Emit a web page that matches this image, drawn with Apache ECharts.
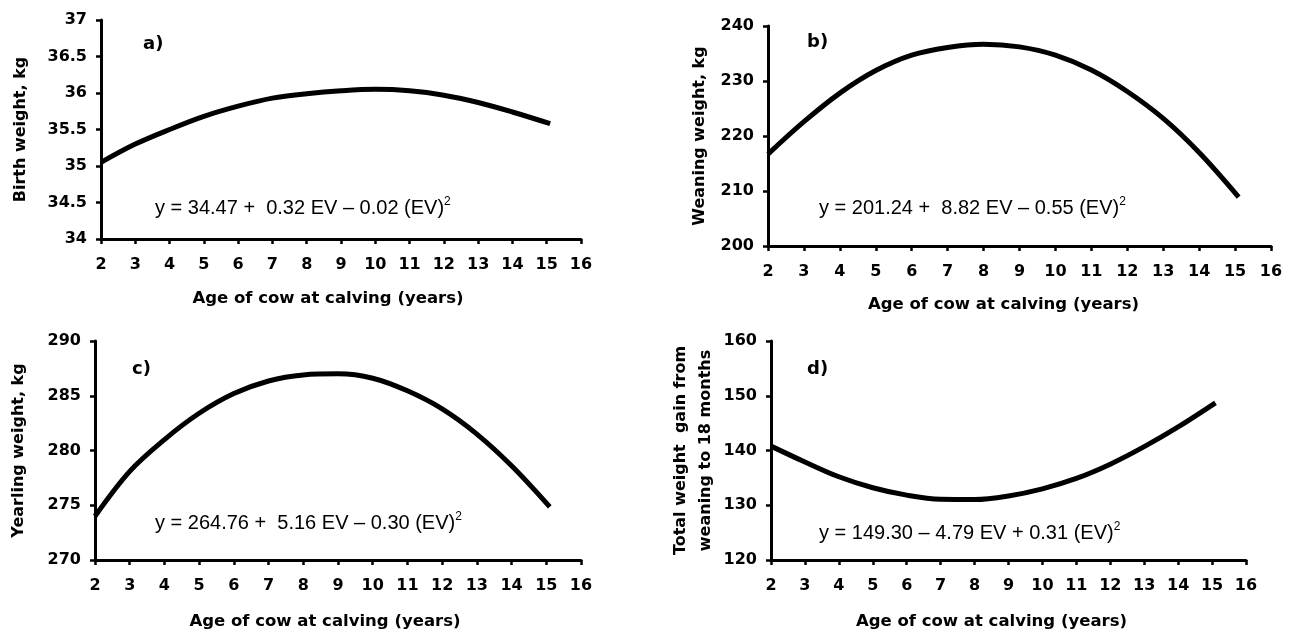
<!DOCTYPE html>
<html lang="en">
  <head>
    <meta charset="UTF-8" />
    <title>Age of cow at calving</title>
    <script src="https://cdn.jsdelivr.net/npm/echarts@6.0.0/dist/echarts.min.js"></script>
    <style>
      html, body { margin: 0; padding: 0; background: #fff; }
      #chart { width: 1292px; height: 630px; }
    </style>
  </head>
  <body>
    <div id="chart"></div>
    <script type="text/javascript">
      // age of cow at calving (years), same points for every panel (curves stop at ~15.1)
      const ages = [2, 3, 4, 5, 6, 7, 8, 9, 10, 11, 12, 13, 14, 15.1];
      // values
      const birthWeight = [35.05, 35.3, 35.5, 35.68, 35.82, 35.93, 35.99, 36.03, 36.05, 36.03, 35.97, 35.87, 35.74, 35.58];
      const weaningWeight = [216.7, 222.6, 227.8, 231.9, 234.7, 236.1, 236.7, 236.2, 234.7, 232.0, 228.1, 223.2, 217.0, 208.9];
      const yearlingWeight = [274.0, 278.1, 281.0, 283.4, 285.2, 286.35, 286.9, 287.0, 286.6, 285.45, 283.8, 281.5, 278.6, 274.85];
      const totalGain = [140.8, 137.9, 135.2, 133.2, 131.85, 131.1, 131.05, 131.7, 133.0, 134.9, 137.5, 140.7, 144.3, 148.7];

      const panelLabels = ["a)", "b)", "c)", "d)"];
      const yNames = ["Birth weight, kg", "Weaning weight, kg", "Yearling weight, kg", "Total weight  gain from\nweaning to 18 months"];
      const xName = "Age of cow at calving (years)";
      const equations = [
        "y = 34.47 +  0.32 EV – 0.02 (EV)",
        "y = 201.24 +  8.82 EV – 0.55 (EV)",
        "y = 264.76 +  5.16 EV – 0.30 (EV)",
        "y = 149.30 – 4.79 EV + 0.31 (EV)",
      ];
      const yMin = [34, 200, 270, 120];
      const yMax = [37, 240, 290, 160];
      const yStep = [0.5, 10, 5, 10];

      const dom = document.getElementById("chart");
      const myChart = echarts.init(dom);

      const boldFont = "'DejaVu Sans', sans-serif";
      const eqFont = "'Liberation Sans', Arial, sans-serif";
      const grids = [
        { left: 101, top: 20, width: 480, height: 219, outerBoundsMode: "none" },
        { left: 768, top: 26, width: 503, height: 220, outerBoundsMode: "none" },
        { left: 95, top: 341, width: 486, height: 219, outerBoundsMode: "none" },
        { left: 771, top: 341, width: 475, height: 219, outerBoundsMode: "none" },
      ];
      // name gaps / shifts for each panel
      const yGap = [68, 56, 64, 53];
      const xGap = [51, 50, 53, 53];
      const xShift = [26, 32, 26, 34];
      const eqPos = [[155, 196], [819, 196], [155, 511], [819, 521]];
      const labelPos = [[143, 35], [807, 33], [132, 360], [807, 360]];

      const series = [birthWeight, weaningWeight, yearlingWeight, totalGain];

      const options = {
        animation: false,
        grid: grids,
        title: [
          ...panelLabels.map((t, i) => ({
            text: t,
            left: labelPos[i][0],
            top: labelPos[i][1],
            padding: 0,
            textStyle: { fontFamily: boldFont, fontWeight: "bold", fontSize: 18, color: "#000" },
          })),
          ...equations.map((t, i) => ({
            text: "{t|" + t + "}{s|2}",
            left: eqPos[i][0],
            top: eqPos[i][1],
            padding: 0,
            textStyle: {
              fontWeight: "normal",
              rich: {
                t: { fontFamily: eqFont, fontWeight: "normal", fontSize: 20, color: "#000", lineHeight: 24 },
                s: { fontFamily: eqFont, fontWeight: "normal", fontSize: 12, color: "#000", verticalAlign: "top", lineHeight: 24 },
              },
            },
          })),
        ],
        xAxis: grids.map((g, i) => ({
          type: "value",
          gridIndex: i,
          min: 2,
          max: 16,
          interval: 1,
          name: xName,
          nameLocation: "middle",
          nameGap: xGap[i],
          nameTextStyle: {
            fontFamily: boldFont,
            fontWeight: "bold",
            fontSize: 16.5,
            color: "#000",
            padding: [0, xShift[i], 0, 0],
          },
          axisLine: { lineStyle: { color: "#000", width: 3 } },
          axisTick: { length: 5, lineStyle: { color: "#000", width: 2.5 } },
          splitLine: { show: false },
          axisLabel: { fontFamily: boldFont, fontWeight: "bold", fontSize: 16, color: "#000", margin: 18 },
        })),
        yAxis: grids.map((g, i) => ({
          type: "value",
          gridIndex: i,
          min: yMin[i],
          max: yMax[i],
          interval: yStep[i],
          name: yNames[i],
          nameLocation: "middle",
          nameGap: yGap[i],
          nameTextStyle: {
            fontFamily: boldFont,
            fontWeight: "bold",
            fontSize: 16,
            color: "#000",
            lineHeight: 25,
          },
          axisLine: { show: true, lineStyle: { color: "#000", width: 3 } },
          axisTick: { show: true, length: 5, lineStyle: { color: "#000", width: 2.5 } },
          splitLine: { show: false },
          axisLabel: { fontFamily: boldFont, fontWeight: "bold", fontSize: 16, color: "#000", margin: 14 },
        })),
        series: series.map((vals, i) => ({
          type: "line",
          xAxisIndex: i,
          yAxisIndex: i,
          smooth: 0.35,
          showSymbol: false,
          lineStyle: { color: "#000", width: 5 },
          data: ages.map((a, k) => [a, vals[k]]),
        })),
      };
      if (options && typeof options === "object") {
        myChart.setOption(options);
      }
    </script>
  </body>
</html>
